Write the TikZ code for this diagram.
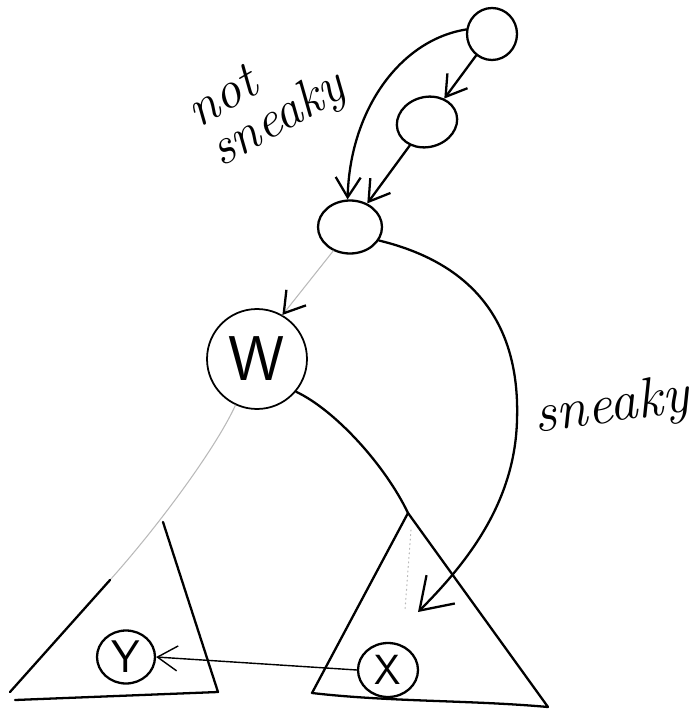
\documentclass[tikz,border=0pt]{standalone}
\usepackage{amsmath}
\usetikzlibrary{shapes.geometric,arrows.meta,calc}

\begin{document}
\begin{tikzpicture}[x=0.02cm, y=-0.02cm, line width=1.3pt, line cap=round, >={Straight Barb[length=4mm,width=5mm]},
    blob/.style={draw, ellipse, inner sep=0pt},
    faint/.style={draw=gray!55, line width=0.6pt},
    hand/.style={font=\itshape\fontsize{30}{26}\selectfont}]
    \useasboundingbox (0,0) rectangle (693,713);
    % path down to the current node
    \node[blob, minimum width=1cm, minimum height=1.04cm] (top) at (492,34) {};
    \node[blob, minimum width=1.22cm, minimum height=1cm, rotate=15] (mid) at (427,122) {};
    \node[blob, minimum width=1.28cm, minimum height=1.06cm] (cur) at (350,227) {};
    \node[draw, circle, minimum size=2cm, inner sep=0pt, line width=1pt, font=\sffamily\fontsize{36}{36}\selectfont] (w) at (257,359) {W};
    \node[blob, minimum width=1.2cm, minimum height=1.08cm, font=\sffamily\fontsize{24}{24}\selectfont] (x) at (388,670) {X};
    \node[blob, minimum width=1.16cm, minimum height=1.06cm, font=\sffamily\fontsize{26}{26}\selectfont] (y) at (126,657) {Y};
    % corners of the subtrees
    \coordinate (rtop) at (408,513);
    \coordinate (ltop) at (163,522);
    \coordinate (hit) at (418,612);
    % not sneaky
    \draw[->] (top) -- (mid);
    \draw[->] (mid) -- (cur);
    \draw[->] (top.170) .. controls (400,40) and (350,110) .. (cur.95);
    \node[hand, rotate=30, align=left] (notlbl) at (268,102) {not\\sneaky};
    % sneaky
    \draw[-{Straight Barb[length=6mm,width=8mm]}] (cur.-25) .. controls (480,265) and (520,330) .. (517,420)
        .. controls (515,500) and (470,560) .. (hit);
    \node[font=\itshape\fontsize{32}{32}\selectfont, rotate=8] (sneakylbl) at (612,408) {sneaky};
    \draw[faint] (cur.235) -- (w.60);
    \draw[->] ($(w.60)!2pt!(cur.235)$) -- (w.60);
    % subtrees
    \draw (w.-40) .. controls (335,410) and (385,465) .. (rtop);
    \draw[line join=round] (rtop) -- (312,693) .. controls (390,702) and (470,700) .. (548,707) -- cycle;
    \draw[faint, dotted] (411,530) -- (405,610);
    \draw[faint] (w.245) .. controls (215,450) and (155,530) .. (110,580);
    \draw (110,580) -- (10,692);
    \draw[line join=round] (ltop) -- (218,692) -- (15,700);
    \draw[->, line width=0.8pt] (x.west) -- (y.east);
\end{tikzpicture}
\end{document}
